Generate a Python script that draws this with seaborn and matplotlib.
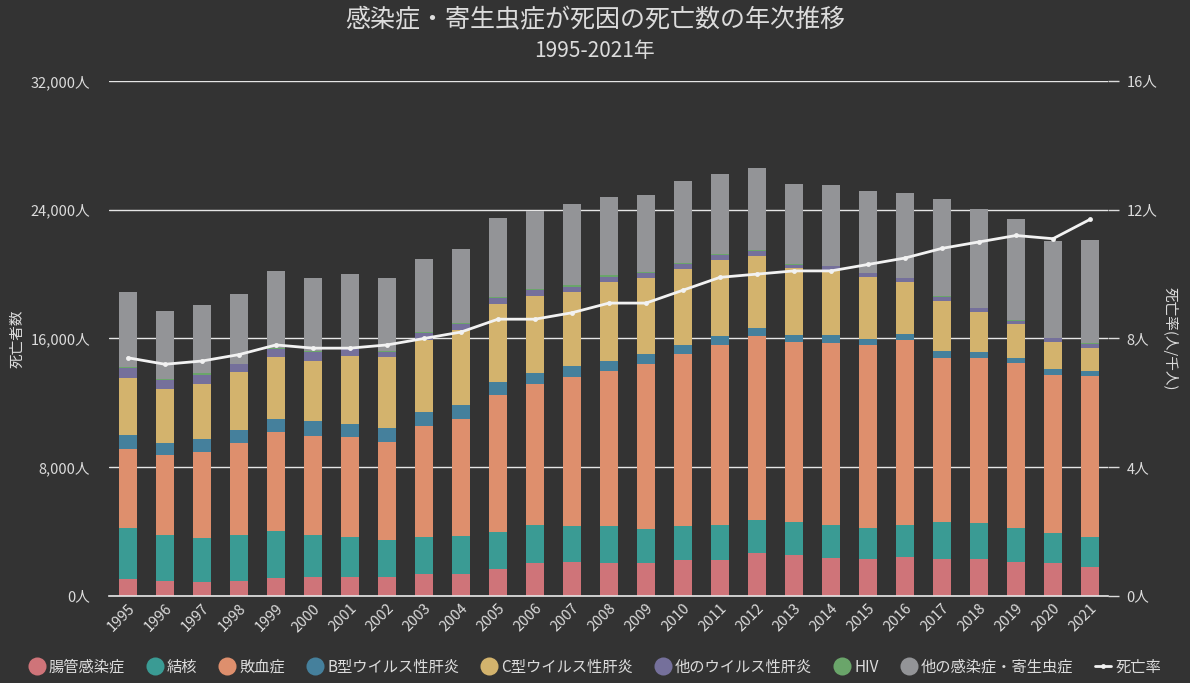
import matplotlib
matplotlib.use("Agg")
import matplotlib.pyplot as plt
from matplotlib.lines import Line2D
from matplotlib.ticker import FuncFormatter, FixedLocator
import seaborn as sns
import numpy as np
import pandas as pd

years = [str(y) for y in range(1995, 2022)]

intestinal = [1030, 960, 900, 960, 1090, 1150, 1150, 1150, 1340, 1340, 1650, 2080, 2140, 2080,
              2020, 2210, 2210, 2640, 2520, 2330, 2270, 2450, 2270, 2270, 2140, 2080, 1830]
tuberculosis = [3170, 2860, 2730, 2800, 2920, 2610, 2490, 2300, 2300, 2360, 2300, 2300, 2180, 2240,
                2170, 2110, 2170, 2110, 2050, 2110, 1930, 1930, 2300, 2240, 2110, 1860, 1860]
sepsis = [4910, 4910, 5340, 5720, 6150, 6210, 6210, 6090, 6900, 7270, 8510, 8820, 9260, 9690,
          10250, 10690, 11190, 11430, 11190, 11250, 11370, 11500, 10190, 10250, 10250, 9820, 10010]
hep_b = [870, 750, 810, 810, 810, 930, 810, 870, 870, 870, 810, 680, 680, 620,
         620, 560, 560, 500, 430, 500, 370, 370, 440, 370, 310, 370, 310]
hep_c = [3540, 3360, 3420, 3600, 3850, 3730, 4230, 4410, 4470, 4660, 4850, 4790, 4660, 4910,
         4720, 4720, 4720, 4470, 4160, 4040, 3910, 3290, 3110, 2490, 2110, 1680, 1430]
hep_other = [620, 560, 560, 500, 500, 500, 440, 370, 440, 370, 370, 370, 310, 310,
             310, 370, 310, 310, 200, 250, 190, 190, 250, 250, 190, 190, 190]
hiv = [60, 70, 100, 50, 60, 70, 50, 60, 60, 70, 60, 60, 70, 70,
       60, 60, 60, 60, 80, 50, 60, 60, 50, 40, 60, 30, 60]
other_inf = [4660, 4210, 4220, 4300, 4790, 4590, 4620, 4540, 4540, 4590, 4910, 4850, 5030, 4900,
             4790, 5040, 5030, 5100, 4970, 5010, 5040, 5220, 6040, 6120, 6280, 6000, 6400]
death_rate = [7.4, 7.2, 7.3, 7.5, 7.8, 7.7, 7.7, 7.8, 8.0, 8.2, 8.6, 8.6, 8.8, 9.1,
              9.1, 9.5, 9.9, 10.0, 10.1, 10.1, 10.3, 10.5, 10.8, 11.0, 11.2, 11.1, 11.7]

series_names = ["腸管感染症", "結核", "敗血症", "B型ウイルス性肝炎", "C型ウイルス性肝炎",
                "他のウイルス性肝炎", "HIV", "他の感染症・寄生虫症"]
series_values = [intestinal, tuberculosis, sepsis, hep_b, hep_c, hep_other, hiv, other_inf]
colors = ["#cf7479", "#3a9b94", "#de8f6d", "#45809c", "#d3b36d", "#75709b", "#6aa56a", "#939497"]
rate_name = "死亡率"

bg = "#333333"
txt = "#dcdcdc"

sns.set_theme(style="dark")
plt.rcParams["font.family"] = ["Noto Sans CJK JP", "DejaVu Sans"]
plt.rcParams["axes.unicode_minus"] = False

fig = plt.figure(figsize=(11.9, 6.83), dpi=100, facecolor=bg)
ax = fig.add_axes([0.092, 0.1274, 0.8395, 0.754])
ax.set_facecolor(bg)

bottom = np.zeros(len(years))
for name, vals, col in zip(series_names, series_values, colors):
    df = pd.DataFrame({"year": years, "value": vals})
    sns.barplot(data=df, x="year", y="value", color=col, bottom=bottom, width=0.49,
                ax=ax, errorbar=None, saturation=1, linewidth=0)
    bottom = bottom + np.array(vals)

ax.set_xlim(-0.5, len(years) - 0.5)
ax.set_ylim(0, 32000)
ax.yaxis.set_major_locator(FixedLocator([0, 8000, 16000, 24000, 32000]))
ax.yaxis.set_major_formatter(FuncFormatter(lambda v, p: f"{int(v):,}人"))
ax.grid(axis="y", color="#e6e6e6", linewidth=1.0)
ax.grid(axis="x", visible=False)
ax.set_axisbelow(True)
for s in ["top", "right", "left"]:
    ax.spines[s].set_visible(False)
ax.spines["bottom"].set_color("#e6e6e6")
ax.spines["bottom"].set_linewidth(1.2)
ax.tick_params(axis="y", colors=txt, labelsize=10.5, length=0, pad=14)
ax.tick_params(axis="x", colors=txt, labelsize=10.5, length=0, pad=4)
for lab in ax.get_xticklabels():
    lab.set_rotation(45)
    lab.set_ha("right")
    lab.set_rotation_mode("anchor")
ax.set_xlabel("")
ax.set_ylabel("死亡者数", color=txt, fontsize=10.5)
ax.yaxis.set_label_coords(-0.0855, 0.5)

ax2 = ax.twinx()
rdf = pd.DataFrame({"x": np.arange(len(years)), "rate": death_rate})
sns.lineplot(data=rdf, x="x", y="rate", ax=ax2, color="#f2f2f2", linewidth=2.0,
             marker="o", markersize=3.5, markeredgewidth=0, markerfacecolor="#f2f2f2")
ax2.set_ylim(0, 16)
ax2.set_xlim(-0.5, len(years) - 0.5)
ax2.yaxis.set_major_locator(FixedLocator([0, 4, 8, 12, 16]))
ax2.yaxis.set_major_formatter(FuncFormatter(lambda v, p: f"{int(v)}人"))
ax2.tick_params(axis="y", colors=txt, labelsize=10.5, length=8, width=1, pad=5)
for t in ax2.yaxis.get_ticklines():
    t.set_color("#e6e6e6")
for lab in ax2.get_yticklabels():
    lab.set_color(txt)
for s in ax2.spines.values():
    s.set_visible(False)
ax2.grid(False)
ax2.set_xlabel("")
ax2.set_ylabel("死亡率(人/千人)", color=txt, fontsize=10.5, rotation=270, va="center")
ax2.yaxis.set_label_coords(1.062, 0.5)

fig.text(0.5, 0.971, "感染症・寄生虫症が死因の死亡数の年次推移", ha="center", va="center",
         color=txt, fontsize=18)
fig.text(0.5, 0.925, "1995-2021年", ha="center", va="center", color=txt, fontsize=15)

handles = [Line2D([0], [0], marker="o", linestyle="none", markersize=13,
                  markerfacecolor=c, markeredgewidth=0) for c in colors]
handles.append(Line2D([0], [0], color="#f2f2f2", linewidth=2, marker="o", markersize=3.5,
                      markeredgewidth=0))
labels = series_names + [rate_name]
fig.legend(handles, labels, loc="center", bbox_to_anchor=(0.5, 0.023), ncol=9, frameon=False,
           fontsize=11, labelcolor=txt, handletextpad=0.3, columnspacing=1.45, handlelength=1.0)

fig.savefig("out.png", dpi=100, facecolor=bg)
